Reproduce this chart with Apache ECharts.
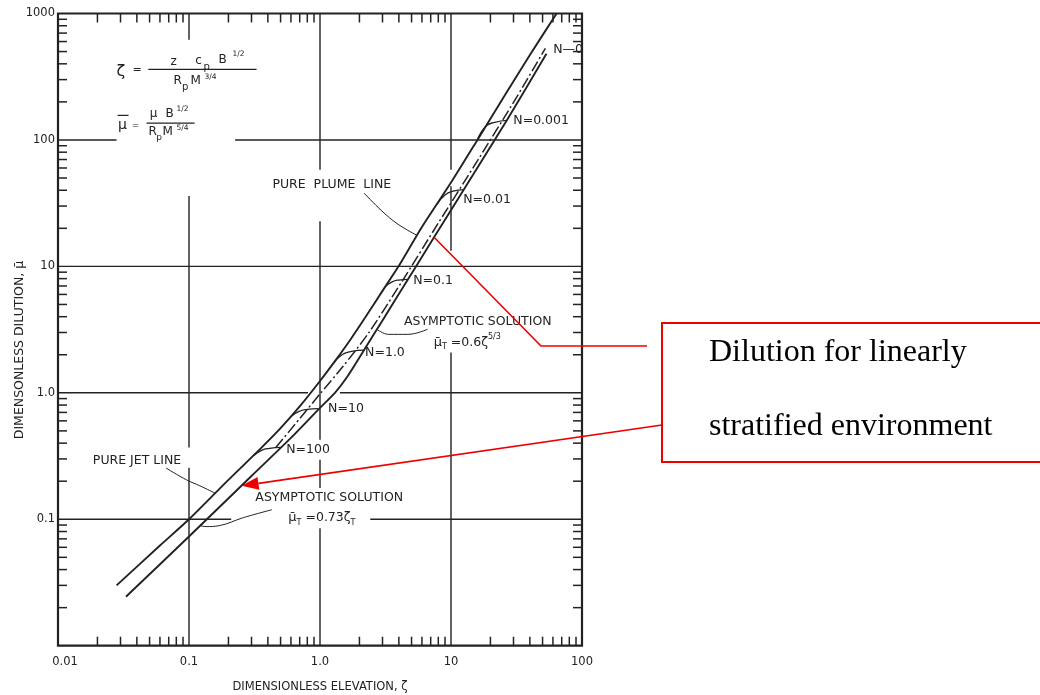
<!DOCTYPE html>
<html><head><meta charset="utf-8">
<script src="https://cdn.jsdelivr.net/npm/echarts@6/dist/echarts.min.js"></script>
<style>html,body{margin:0;padding:0;background:#fff}#c{width:1040px;height:695px}</style>
</head><body><div id="c"></div>
<script>
// ---------------- data ----------------
const xTickLabels = ['0.01', '0.1', '1.0', '10', '100'];
const yTickLabels = ['', '0.1', '1.0', '10', '100', '1000'];
const minorMultipliers = [2, 3, 4, 5, 6, 7, 8, 9];
const xDecades = [0.01, 0.1, 1, 10];
const yDecades = [0.01, 0.1, 1, 10, 100];

// upper solid line: pure jet line -> pure plume line  [zeta, mu]
const pureJetPlume = [[0.028,0.030],[0.06,0.062],[0.1,0.10],[0.2,0.205],[0.35,0.36],[0.5,0.525],[0.7,0.78],[1.0,1.24],[1.3,1.78],[1.7,2.62],[2.2,3.9],[3.0,6.4],[4.0,10.1],[6.0,20.5],[10,46],[16,101],[25,215],[40,470],[64,1000]];
// lower solid line: asymptotic solutions (0.73 zeta / 0.6 zeta^5/3)
const asymptotic = [[0.033,0.0244],[0.1,0.073],[0.3,0.22],[0.6,0.44],[1.0,0.76],[1.3,1.0],[1.6,1.32],[2.2,2.23],[3.0,3.74],[4.7,7.9],[7.4,16.9],[12.5,40.4],[26.7,143],[53.5,480]];
// dash-dot line between them
const dashDot = [[0.46,0.37],[0.7,0.625],[1.0,0.98],[1.5,1.62],[2.36,2.99],[4.19,7.5],[8,22],[15,62],[31.9,220],[52.5,530]];

// terminal arcs for stratification parameter N
const arcN100   = [[0.31,0.318],[0.358,0.351],[0.413,0.364],[0.5,0.37]];
const arcN10    = [[0.6,0.65],[0.693,0.713],[0.80,0.739],[0.97,0.75]];
const arcN1     = [[1.26,1.705],[1.483,2.01],[1.746,2.13],[2.17,2.18]];
const arcN01    = [[3.15,6.92],[3.55,7.54],[3.99,7.80],[4.68,7.9]];
const arcN001   = [[7.82,31.0],[9.0,36.7],[10.36,39.3],[12.5,40.4]];
const arcN0001  = [[15.8,99],[18.4,128],[21.6,138],[26.7,143]];

// leader lines from labels
const leaderPlume = [[2.17,38],[2.97,27.4],[3.95,21.5],[5.5,17.6]];
const leaderJet   = [[0.0668,0.254],[0.0957,0.205],[0.121,0.184],[0.158,0.161]];
const leaderAsym1 = [[0.43,0.119],[0.26,0.103],[0.17,0.089],[0.135,0.0875],[0.122,0.089]];
const leaderAsym2 = [[6.62,3.18],[4.7,2.90],[3.33,2.90],[2.72,3.18]];

// text labels anchored at [zeta, mu] (left edge, vertical middle)
const labelItems = [
  {text:'PURE  PLUME  LINE', at:[0.433,44.3]},
  {text:'PURE JET LINE', at:[0.01845,0.29]},
  {text:'ASYMPTOTIC SOLUTION', at:[0.321,0.1476]},
  {text:'{m|μ̄}{s|T}{n| =0.73ζ}{s|T}', at:[0.573,0.1024]},
  {text:'ASYMPTOTIC SOLUTION', at:[4.37,3.68]},
  {text:'{m|μ̄}{s|T}{n| =0.6ζ}{p|5/3}', at:[7.38,2.51]},
  {text:'N=0.001', at:[29.9,141]},
  {text:'N=0.01', at:[12.4,33.8]},
  {text:'N=0.1', at:[5.14,7.64]},
  {text:'N=1.0', at:[2.21,2.09]},
  {text:'N=10', at:[1.153,0.75]},
  {text:'N=100', at:[0.552,0.355]},
  {text:'N—0', at:[60.3,514]}
];

// decade grid lines and the breaks drawn in them
const gridX = [0.1, 1, 10];
const gridXGaps = [[[0.255,0.37],[36,620]], [[0.085,0.177],[0.295,0.425],[22.7,58]], [[2.08,13.3],[43,58]]];
const gridY = [0.1, 1, 10, 100];
const gridYGaps = [[[0.21,2.42]], [[0.81,1.42]], [], [[0.028,0.225]]];

const formulaAnchor = [0.028, 355];
const arrowTarget = [0.252, 0.184];
const boxLeaderTarget = [7.43, 17.0];

// ---------------- chart ----------------
const INK = '#222222';
const FONT = 'DejaVu Sans';
const X_MIN = 0.01, X_MAX = 100, Y_MIN = 0.01, Y_MAX = 1000;

function segmentsAlong(fixed, vertical, gaps) {
  const lo = vertical ? Y_MIN : X_MIN, hi = vertical ? Y_MAX : X_MAX;
  const out = []; let start = lo;
  gaps.slice().sort((a, b) => a[0] - b[0]).forEach(g => { out.push([start, g[0]]); start = g[1]; });
  out.push([start, hi]);
  return out.map(([a, b]) => vertical ? {p1:[fixed,a], p2:[fixed,b]} : {p1:[a,fixed], p2:[b,fixed]});
}
const segs = [];
gridX.forEach((v, i) => segs.push(...segmentsAlong(v, true, gridXGaps[i])));
gridY.forEach((v, i) => segs.push(...segmentsAlong(v, false, gridYGaps[i])));

const TL = 9;
const ticks = [];
xDecades.forEach(d => minorMultipliers.forEach(m => {
  ticks.push({p:[d*m, Y_MIN], dx:0, dy:-TL});
  ticks.push({p:[d*m, Y_MAX], dx:0, dy:TL});
}));
yDecades.forEach(d => minorMultipliers.forEach(m => {
  ticks.push({p:[X_MIN, d*m], dx:TL, dy:0});
  ticks.push({p:[X_MAX, d*m], dx:-TL, dy:0});
}));

function decadeIndex(v, base) { return Math.round(Math.log10(v)) - base; }

function curve(data, width, extra) {
  return Object.assign({
    type:'line', data:data, symbol:'none', showSymbol:false, silent:true,
    smooth:0.25, lineStyle:{color:INK, width:width}, z:3
  }, extra || {});
}

const chart = echarts.init(document.getElementById('c'));
chart.setOption({
  animation:false,
  backgroundColor:'#fff',
  grid:{left:58, right:458, top:13.5, bottom:49.3, show:true, borderColor:INK, borderWidth:2.2, backgroundColor:'transparent',
        containLabel:false, outerBoundsMode:'none'},
  xAxis:{
    type:'log', logBase:10, min:X_MIN, max:X_MAX,
    name:'DIMENSIONLESS ELEVATION, ζ', nameLocation:'middle', nameGap:35,
    nameTextStyle:{fontFamily:FONT, fontSize:11.5, color:INK},
    axisLine:{show:false}, axisTick:{show:false}, splitLine:{show:false}, minorTick:{show:false},
    axisLabel:{
      margin:10, fontFamily:FONT, fontSize:11.5, color:INK,
      formatter:v => { const i = decadeIndex(v, -2); return i === 0 ? '{a|' + xTickLabels[0] + '}' : (xTickLabels[i] || ''); },
      rich:{a:{fontFamily:FONT, fontSize:11.5, color:INK, padding:[0,0,0,14]}}
    }
  },
  yAxis:{
    type:'log', logBase:10, min:Y_MIN, max:Y_MAX,
    axisLine:{show:false}, axisTick:{show:false}, splitLine:{show:false},
    axisLabel:{margin:3, fontFamily:FONT, fontSize:11.5, color:INK,
      formatter:v => yTickLabels[decadeIndex(v, -2)] || ''}
  },
  series:[
    {type:'custom', silent:true, z:1, data:segs.map(s => s.p1),
     renderItem:(params, api) => { const s = segs[params.dataIndex]; const a = api.coord(s.p1), b = api.coord(s.p2);
       return {type:'line', shape:{x1:a[0], y1:a[1], x2:b[0], y2:b[1]}, style:{stroke:INK, lineWidth:1.4}}; }},
    {type:'custom', silent:true, z:2, data:ticks.map(t => t.p),
     renderItem:(params, api) => { const t = ticks[params.dataIndex]; const a = api.coord(t.p);
       return {type:'line', shape:{x1:a[0], y1:a[1], x2:a[0]+t.dx, y2:a[1]+t.dy}, style:{stroke:INK, lineWidth:1.5}}; }},
    curve(pureJetPlume, 1.9),
    curve(asymptotic, 1.9),
    curve(dashDot, 1.5, {lineStyle:{color:INK, width:1.5, type:[11,3,2,3]}}),
    curve(arcN100, 1.3, {smooth:0.5}),
    curve(arcN10, 1.3, {smooth:0.5}),
    curve(arcN1, 1.3, {smooth:0.5}),
    curve(arcN01, 1.3, {smooth:0.5}),
    curve(arcN001, 1.3, {smooth:0.5}),
    curve(arcN0001, 1.3, {smooth:0.5}),
    curve(leaderPlume, 1.0, {smooth:0.4}),
    curve(leaderJet, 1.0, {smooth:0.4}),
    curve(leaderAsym1, 1.0, {smooth:0.4}),
    curve(leaderAsym2, 1.0, {smooth:0.4})
  ]
});

// ---------------- annotations ----------------
const toPx = p => chart.convertToPixel({gridIndex:0}, p);
const RICH = {
  m:{fontSize:13, fontFamily:FONT, fill:INK, lineHeight:18, verticalAlign:'middle'},
  n:{fontSize:12.5, fontFamily:FONT, fill:INK, lineHeight:18, verticalAlign:'middle'},
  s:{fontSize:8, fontFamily:FONT, fill:INK, lineHeight:18, verticalAlign:'bottom'},
  p:{fontSize:8, fontFamily:FONT, fill:INK, lineHeight:18, verticalAlign:'top'}
};
function txt(x, y, text, size, align, extra) {
  return Object.assign({type:'text', x:x, y:y, silent:true, z:10, style:{text:text, fill:INK, fontFamily:FONT, fontSize:size,
    align:align||'left', textAlign:align||'left', verticalAlign:'middle', textVerticalAlign:'middle', rich:RICH}}, extra||{});
}
function seg(x1, y1, x2, y2, w, color) {
  return {type:'line', silent:true, z:10, shape:{x1:x1, y1:y1, x2:x2, y2:y2}, style:{stroke:color||INK, lineWidth:w}};
}
const g = [];
labelItems.forEach(l => { const p = toPx(l.at); g.push(txt(p[0], p[1], l.text, 12.5, 'left')); });

// y axis title
g.push(txt(20, 350, 'DIMENSONLESS DILUTION, μ̄', 12.5, 'center', {rotation:Math.PI/2}));

// formulas
const fa = toPx(formulaAnchor), fx = fa[0], fy = fa[1];
g.push(txt(fx, fy+1, 'ζ', 16, 'left'));
g.push(txt(fx+16, fy, '=', 11, 'left'));
g.push(seg(fx+31.7, fy-1, fx+140, fy-1, 1.2));
g.push(txt(fx+57, fy-8, 'z', 12, 'center'));
g.push(txt(fx+82, fy-9, 'c', 12, 'center'));
g.push(txt(fx+90, fy-3, 'p', 10, 'center'));
g.push(txt(fx+106, fy-10, 'B', 12, 'center'));
g.push(txt(fx+122, fy-16, '1/2', 7.5, 'center'));
g.push(txt(fx+61, fy+11, 'R', 12, 'center'));
g.push(txt(fx+68.5, fy+17, 'p', 10, 'center'));
g.push(txt(fx+79, fy+11, 'M', 12, 'center'));
g.push(txt(fx+94, fy+7, '3/4', 7.5, 'center'));

g.push(txt(fx+6, fy+55, 'μ', 14, 'center'));
g.push(seg(fx+1, fy+45, fx+12, fy+45, 1.2));
g.push(txt(fx+19, fy+55, '=', 9, 'center'));
g.push(seg(fx+30, fy+52.7, fx+78, fy+52.7, 1.2));
g.push(txt(fx+37, fy+44, 'μ', 12, 'center'));
g.push(txt(fx+53, fy+44, 'B', 12, 'center'));
g.push(txt(fx+66, fy+39, '1/2', 7.5, 'center'));
g.push(txt(fx+36, fy+62, 'R', 12, 'center'));
g.push(txt(fx+42.5, fy+67, 'p', 9, 'center'));
g.push(txt(fx+51, fy+62, 'M', 12, 'center'));
g.push(txt(fx+66, fy+58, '5/4', 7.5, 'center'));

// red call-out
const RED = '#ee0000';
const A = toPx(boxLeaderTarget);
g.push({type:'polyline', silent:true, z:11, shape:{points:[A, [541,346], [647,346]]}, style:{stroke:RED, lineWidth:1.6, fill:null}});
const B = toPx(arrowTarget), S = [662, 425];
const dx = B[0]-S[0], dy = B[1]-S[1], len = Math.hypot(dx, dy), ux = dx/len, uy = dy/len;
const HL = 17, HW = 6.5;
const base = [B[0]-ux*HL, B[1]-uy*HL];
g.push(seg(S[0], S[1], base[0], base[1], 1.6, RED));
g.push({type:'polygon', silent:true, z:11, shape:{points:[B, [base[0]-uy*HW, base[1]+ux*HW], [base[0]+uy*HW, base[1]-ux*HW]]}, style:{fill:RED}});
g.push({type:'rect', silent:true, z:11, shape:{x:662, y:323, width:400, height:139}, style:{stroke:RED, lineWidth:2, fill:null}});
g.push({type:'text', silent:true, z:11, x:709, y:353, style:{text:'Dilution for linearly', fill:'#000', fontFamily:'Liberation Serif', fontSize:32, align:'left', textAlign:'left', verticalAlign:'middle', textVerticalAlign:'middle'}});
g.push({type:'text', silent:true, z:11, x:709, y:427, style:{text:'stratified environment', fill:'#000', fontFamily:'Liberation Serif', fontSize:32, align:'left', textAlign:'left', verticalAlign:'middle', textVerticalAlign:'middle'}});

chart.setOption({graphic:{elements:g}});
</script>
</body></html>
